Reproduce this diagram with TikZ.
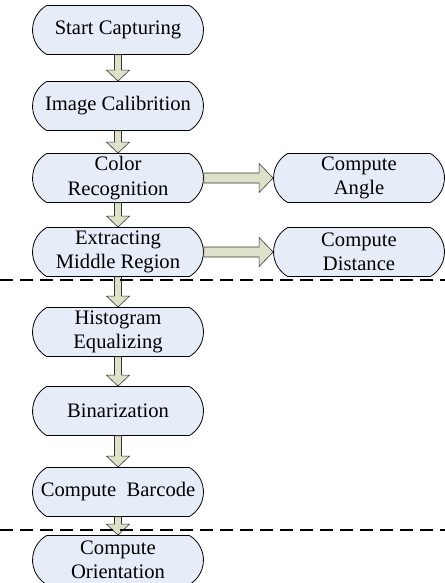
\documentclass[tikz,border=0pt]{standalone}
\usepackage{fontspec}
\setmainfont{Liberation Serif}
\usetikzlibrary{shapes.misc,calc}
\definecolor{boxfill}{RGB}{230,236,248}
\definecolor{arrowfill}{RGB}{222,225,202}
\begin{document}
\begin{tikzpicture}[x=1bp, y=-1bp, line join=round,
		font=\fontsize{20.6bp}{24.5bp}\selectfont,
		procbox/.style={rounded rectangle, rounded rectangle arc length=120,
			draw=black, line width=0.8bp, fill=boxfill, inner sep=0pt,
			minimum width=171bp, minimum height=49bp, align=center},
		downarrow/.style={draw=black!80, line width=0.6bp, fill=arrowfill,
			to path={($(\tikztostart)+(-3.5,0)$) -- ($(\tikztotarget)+(-3.5,-11)$)
				-- ($(\tikztotarget)+(-11.5,-11)$) -- (\tikztotarget)
				-- ($(\tikztotarget)+(11.5,-11)$) -- ($(\tikztotarget)+(3.5,-11)$)
				-- ($(\tikztostart)+(3.5,0)$) -- cycle}},
		rightarrow/.style={draw=black!80, line width=0.6bp, fill=arrowfill,
			to path={($(\tikztostart)+(0,-5)$) -- ($(\tikztotarget)+(-14,-5)$)
				-- ($(\tikztotarget)+(-14,-14.5)$) -- (\tikztotarget)
				-- ($(\tikztotarget)+(-14,14.5)$) -- ($(\tikztotarget)+(-14,5)$)
				-- ($(\tikztostart)+(0,5)$) -- cycle}},
		sepline/.style={line width=2.5bp, dash pattern=on 13bp off 7bp}]
	\useasboundingbox (0,0) rectangle (445,583);
	% ==================== CÁC KHỐI XỬ LÝ ====================
	\node[procbox] (start)   at (118,30)  {Start Capturing};
	\node[procbox] (calib)   at (118,106) {Image Calibrition};
	\node[procbox] (color)   at (118,178) {Color\\Recognition};
	\node[procbox] (extract) at (118,252) {Extracting\\Middle Region};
	\node[procbox] (hist)    at (118,332) {Histogram\\Equalizing};
	\node[procbox] (binar)   at (118,411) {Binarization};
	\node[procbox] (barcode) at (118,492) {Compute\ \ Barcode};
	\node[procbox] (orient)  at (118,560) {Compute\\Orientation};
	\node[procbox] (angle)   at (359,178) {Compute\\Angle};
	\node[procbox] (dist)    at (359,252) {Compute\\Distance};
	% ==================== MŨI TÊN ====================
	\foreach \a/\b in {start/calib, calib/color, color/extract, extract/hist,
		hist/binar, binar/barcode, barcode/orient}
	\draw[downarrow] (\a.south) to (\b.north);
	\draw[rightarrow] (color.east) to (angle.west);
	\draw[rightarrow] (extract.east) to (dist.west);
	% ==================== ĐƯỜNG PHÂN CÁCH ====================
	\foreach \y in {280,530}
	\draw[sepline] (0,\y) -- (445,\y);
\end{tikzpicture}
\end{document}
